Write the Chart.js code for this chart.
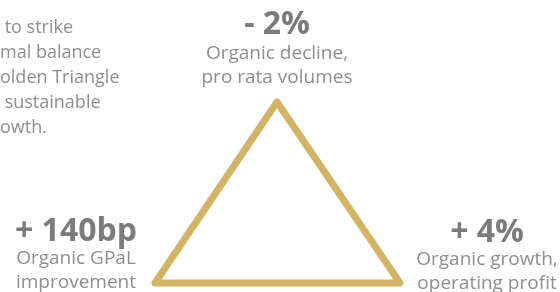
<!DOCTYPE html>
<html>
<head>
<meta charset="utf-8">
<script src="https://cdn.jsdelivr.net/npm/chart.js@4"></script>
<style>
  html, body { margin: 0; padding: 0; background: #fff; overflow: hidden; }
  #wrap { width: 560px; height: 292px; }
</style>
</head>
<body>
<div id="wrap"><canvas id="tri" width="560" height="292"></canvas></div>
<script>
// triangle corners (apex, bottom right, bottom left, back to apex)
const cornerX = [277, 400, 155, 277];
const cornerY = [102, 283, 283, 102];

// corner labels: top, bottom left, bottom right
const figures  = ["- 2%", "+ 140bp", "+ 4%"];
const captions = [
  ["Organic decline,", "pro rata volumes"],
  ["Organic GPaL", "improvement"],
  ["Organic growth,", "operating profit"]
];
const intro = [" to strike", "mal balance", "olden Triangle", " sustainable", "owth."];

const GOLD = "#d3b462";
const GREY = "#8e8e8e";
const DARK = "#7b7b7b";
const FONT = "'Open Sans', sans-serif";

// where each label block sits (centre x, y of the figure line)
const spots = [
  { x: 277, y: 25 },
  { x: 76,  y: 232 },
  { x: 487, y: 233 }
];

const labels = {
  id: "labels",
  afterDraw(chart) {
    const c = chart.ctx;
    c.save();
    c.textBaseline = "middle";

    c.textAlign = "left";
    c.fillStyle = GREY;
    c.font = "18px " + FONT;
    intro.forEach((t, i) => c.fillText(t, 0, 28 + i * 25));

    c.textAlign = "center";
    figures.forEach((f, i) => {
      const s = spots[i];
      c.fillStyle = DARK;
      c.font = "bold 32px " + FONT;
      c.fillText(f, s.x, s.y);
      c.fillStyle = GREY;
      c.font = "19px " + FONT;
      const gap = i === 0 ? 29 : 27;
      captions[i].forEach((t, j) => c.fillText(t, s.x, s.y + gap + j * 24));
    });
    c.restore();
  }
};

new Chart(document.getElementById("tri"), {
  type: "scatter",
  data: {
    datasets: [{
      data: cornerX.map((x, i) => ({ x, y: cornerY[i] })),
      showLine: true,
      borderColor: GOLD,
      borderWidth: 7,
      borderJoinStyle: "round",
      borderCapStyle: "round",
      pointRadius: 0,
      fill: false
    }]
  },
  options: {
    responsive: false,
    animation: false,
    layout: { padding: 0 },
    plugins: { legend: { display: false }, tooltip: { enabled: false } },
    scales: {
      x: { type: "linear", min: 0, max: 560, display: false },
      y: { type: "linear", min: 0, max: 292, reverse: true, display: false }
    }
  },
  plugins: [labels]
});
</script>
</body>
</html>
